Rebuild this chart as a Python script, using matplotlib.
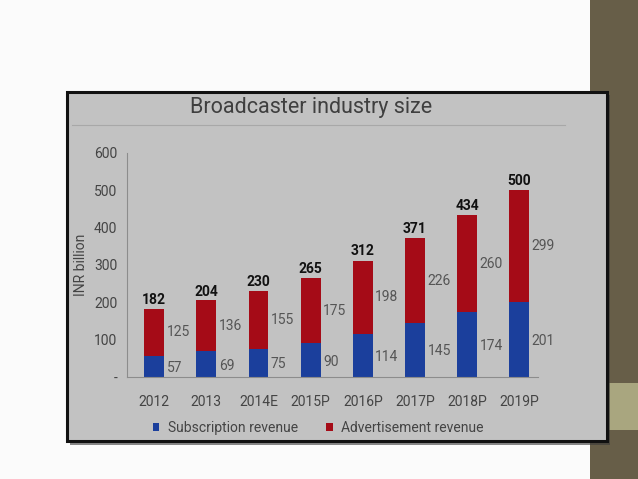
import matplotlib.pyplot as plt
from matplotlib.patches import Rectangle
import numpy as np

years = ["2012", "2013", "2014E", "2015P", "2016P", "2017P", "2018P", "2019P"]
subscription = [57, 69, 75, 90, 114, 145, 174, 201]
advertisement = [125, 136, 155, 175, 198, 226, 260, 299]
totals = [182, 204, 230, 265, 312, 371, 434, 500]

W, H = 638, 479
plt.rcParams['font.family'] = ['Roboto', 'DejaVu Sans']

fig = plt.figure(figsize=(W / 100, H / 100), dpi=100)
fig.patch.set_facecolor("#fbfbfb")


def fx(px):
    return px / W


def fy(py):
    return 1 - py / H


# olive strip on the right side of the slide
fig.patches.append(Rectangle((fx(590), 0), fx(48), 1, transform=fig.transFigure,
                             facecolor="#675e48", edgecolor="none", zorder=0))
fig.patches.append(Rectangle((fx(590), fy(430)), fx(48), fy(383) - fy(430), transform=fig.transFigure,
                             facecolor="#a9a67f", edgecolor="none", zorder=0))

# chart box with shadow
fig.patches.append(Rectangle((fx(70), fy(445)), fx(540), fy(95) - fy(445), transform=fig.transFigure,
                             facecolor="#3a3a3a", edgecolor="none", zorder=1, alpha=0.6))
fig.patches.append(Rectangle((fx(67), fy(441)), fx(540), fy(92) - fy(441), transform=fig.transFigure,
                             facecolor="#c2c2c2", edgecolor="#111111", linewidth=2.2, zorder=2))

fig.text(fx(311), fy(107), "Broadcaster industry size", ha="center", va="center",
         fontsize=15.5, color="#3f3f3f", zorder=3)
fig.add_artist(plt.Line2D([fx(72), fx(565)], [fy(125), fy(125)], transform=fig.transFigure,
                          color="#a8a8a8", linewidth=0.8, zorder=3))

ax = fig.add_axes([fx(127), fy(377), fx(538) - fx(127), fy(153) - fy(377)])
ax.set_zorder(4)
ax.patch.set_visible(False)

x = np.arange(len(years))
bw = 0.38
ax.bar(x, subscription, bw, color="#1b3f9c", label="Subscription revenue")
ax.bar(x, advertisement, bw, bottom=subscription, color="#a50b17", label="Advertisement revenue")

for i in range(len(years)):
    ax.text(x[i] + bw / 2 + 0.05, subscription[i] / 2 - 4, str(subscription[i]),
            ha="left", va="center", fontsize=10, color="#555555")
    ax.text(x[i] + bw / 2 + 0.05, subscription[i] + advertisement[i] / 2, str(advertisement[i]),
            ha="left", va="center", fontsize=10, color="#555555")
    ax.text(x[i], totals[i] + 6, str(totals[i]), ha="center", va="bottom",
            fontsize=10, fontweight="bold", color="#111111")

ax.set_xlim(-0.52, 7.36)
ax.set_ylim(0, 600)
ax.set_yticks([0, 100, 200, 300, 400, 500, 600])
ax.set_yticklabels(["-", "100", "200", "300", "400", "500", "600"])
ax.set_xticks(x)
ax.set_xticklabels(years)
ax.tick_params(axis="both", length=0, labelsize=10, colors="#444444")
ax.tick_params(axis="x", pad=13)
ax.tick_params(axis="y", pad=7)
for s in ["top", "right"]:
    ax.spines[s].set_visible(False)
ax.spines["left"].set_color("#8c8c8c")
ax.spines["bottom"].set_color("#8c8c8c")
ax.spines["left"].set_linewidth(0.8)
ax.spines["bottom"].set_linewidth(0.8)
ax.set_ylabel("INR billion", fontsize=10, color="#444444", labelpad=4)

fig.legend(loc="center", bbox_to_anchor=(fx(318), fy(428)), ncol=2, frameon=False,
           fontsize=10, handlelength=0.5, handleheight=0.5, handletextpad=0.6,
           columnspacing=2.0, labelcolor="#444444")

plt.savefig("out.png", dpi=100)
